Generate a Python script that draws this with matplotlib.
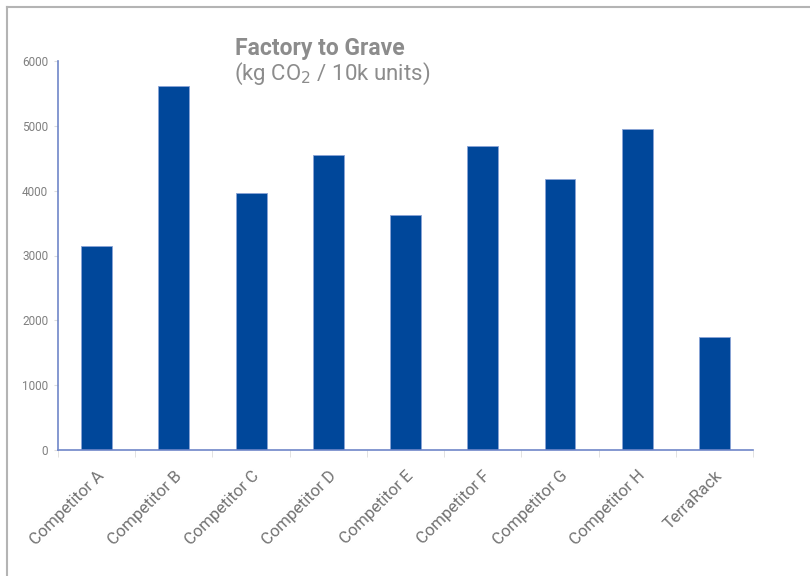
import matplotlib.pyplot as plt
from matplotlib.lines import Line2D
import numpy as np

categories = ["Competitor A", "Competitor B", "Competitor C", "Competitor D",
              "Competitor E", "Competitor F", "Competitor G", "Competitor H",
              "TerraRack"]
values = [3150, 5620, 3970, 4550, 3630, 4690, 4180, 4950, 1750]
yticks = [0, 1000, 2000, 3000, 4000, 5000, 6000]

plt.rcParams['font.family'] = ['Roboto', 'DejaVu Sans']

fig = plt.figure(figsize=(8.1, 5.76), dpi=100)
ax = fig.add_axes([58/810, 1-450/576, (753-58)/810, (450-61)/576])

x = np.arange(len(categories))
ax.bar(x, values, width=0.4, color='#00479a', edgecolor='#8aa4d6', linewidth=0.6)

ax.set_xlim(-0.5, len(categories) - 0.5)
ax.set_ylim(0, 6000)
ax.set_yticks(yticks)
ax.set_yticklabels([str(v) for v in yticks], fontsize=8.5, color='#808080')
ax.tick_params(axis='y', length=3, color='#dddddd', pad=4)

ax.set_xticks(x)
ax.set_xticklabels(categories, rotation=45, ha='right', rotation_mode='anchor',
                   fontsize=12, color='#727272')
ax.tick_params(axis='x', which='major', length=0, pad=13)
ax.set_xticks(np.arange(len(categories) + 1) - 0.5, minor=True)
ax.tick_params(axis='x', which='minor', length=5, color='#dddddd')

for s in ['top', 'right']:
    ax.spines[s].set_visible(False)
for s in ['left', 'bottom']:
    ax.spines[s].set_color('#6f86c8')
    ax.spines[s].set_linewidth(1.2)

# title block
fig.text(235/810, 1-55/576, "Factory to Grave", fontsize=16.5, fontweight='bold',
         color='#8c8c8c', ha='left', va='baseline')
fig.text(234/810, 1-80/576, "(kg CO$_2$ / 10k units)", fontsize=16,
         color='#8c8c8c', ha='left', va='baseline')

# frame lines at the top and left edges
fig.add_artist(Line2D([7/810, 1], [1-7/576, 1-7/576], transform=fig.transFigure,
                      color='#b4b4b4', linewidth=1.5))
fig.add_artist(Line2D([7/810, 7/810], [0, 1-7/576], transform=fig.transFigure,
                      color='#b4b4b4', linewidth=1.5))

fig.savefig("out.png", dpi=100)
